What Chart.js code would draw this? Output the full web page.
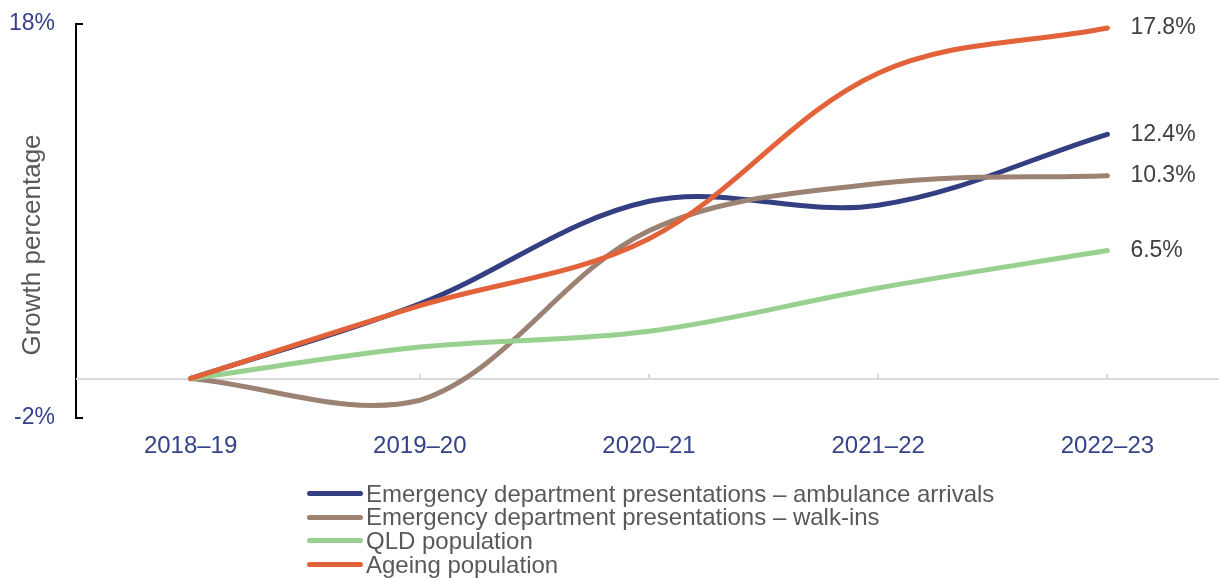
<!DOCTYPE html>
<html>
<head>
<meta charset="utf-8">
<script src="https://cdn.jsdelivr.net/npm/chart.js@4/dist/chart.umd.min.js"></script>
<style>
    html, body { margin: 0; padding: 0; background: #fff; overflow: hidden; }
    #wrap { position: relative; width: 1222px; height: 578px; }
    #legend {
        position: absolute;
        left: 307px;
        top: 482px;
        font-family: 'Liberation Sans', Arial, sans-serif;
        font-size: 24px;
        color: #595959;
    }
    .legend-row { display: flex; align-items: center; height: 23.6px; white-space: nowrap; }
    .legend-line { width: 56px; height: 5px; border-radius: 3px; margin-right: 3px; }
</style>
</head>
<body>
<div id="wrap">
    <canvas id="growthChart" width="1222" height="578"></canvas>
    <div id="legend"></div>
</div>
<script>
// Data (growth %, relative to 2018–19)
const years = ['2018–19', '2019–20', '2020–21', '2021–22', '2022–23'];
const ambulanceArrivals = [0, 3.8, 9.0, 8.8, 12.4];
const walkIns = [0, -1.1, 7.5, 9.9, 10.3];
const qldPopulation = [0, 1.6, 2.4, 4.6, 6.5];
const ageingPopulation = [0, 3.7, 7.1, 15.5, 17.8];
const yTicks = [-2, 18];

const seriesNames = [
    'Emergency department presentations – ambulance arrivals',
    'Emergency department presentations – walk-ins',
    'QLD population',
    'Ageing population'
];
const seriesValues = [ambulanceArrivals, walkIns, qldPopulation, ageingPopulation];
const seriesColors = ['#333f80', '#9b8272', '#98d18f', '#e2633a'];

const FONT = "'Liberation Sans', Arial, sans-serif";
const NAVY = '#35428a';

// Zero line with small upward tick marks at each category
const zeroLinePlugin = {
    id: 'zeroLine',
    beforeDatasetsDraw(chart) {
        const ctx = chart.ctx;
        const area = chart.chartArea;
        const x = chart.scales.x;
        const y0 = Math.round(chart.scales.y.getPixelForValue(0));
        ctx.save();
        ctx.strokeStyle = '#d9d9d9';
        ctx.lineWidth = 2;
        ctx.beginPath();
        ctx.moveTo(area.left, y0);
        ctx.lineTo(area.right, y0);
        for (let i = 0; i < years.length; i++) {
            const px = Math.round(x.getPixelForTick(i));
            ctx.moveTo(px, y0);
            ctx.lineTo(px, y0 - 5);
        }
        ctx.stroke();
        ctx.restore();
    }
};

// Axis end caps, y title and value labels at the end of each line
const decorPlugin = {
    id: 'decor',
    afterDraw(chart) {
        const ctx = chart.ctx;
        const area = chart.chartArea;
        const y = chart.scales.y;
        ctx.save();

        // little inward ticks on the y axis ends
        ctx.strokeStyle = '#000';
        ctx.lineWidth = 2;
        ctx.beginPath();
        yTicks.forEach(v => {
            const py = Math.round(y.getPixelForValue(v));
            ctx.moveTo(area.left, py);
            ctx.lineTo(area.left + 7, py);
        });
        ctx.stroke();

        // y axis title
        ctx.fillStyle = '#595959';
        ctx.font = '26px ' + FONT;
        ctx.textAlign = 'center';
        ctx.textBaseline = 'middle';
        ctx.translate(33, 245);
        ctx.rotate(-Math.PI / 2);
        ctx.fillText('Growth percentage', 0, 0);
        ctx.setTransform(1, 0, 0, 1, 0, 0);

        // end labels
        ctx.fillStyle = '#404040';
        ctx.font = '23px ' + FONT;
        ctx.textAlign = 'left';
        ctx.textBaseline = 'middle';
        chart.data.datasets.forEach((ds, i) => {
            const meta = chart.getDatasetMeta(i);
            const last = meta.data[meta.data.length - 1];
            const val = ds.data[ds.data.length - 1];
            ctx.fillText(val.toFixed(1) + '%', last.x + 23, last.y);
        });
        ctx.restore();
    }
};

function initChart() {
    const ctx = document.getElementById('growthChart');

    new Chart(ctx, {
        type: 'line',
        data: {
            labels: years,
            datasets: seriesValues.map((vals, i) => ({
                label: seriesNames[i],
                data: vals,
                borderColor: seriesColors[i],
                backgroundColor: seriesColors[i],
                borderWidth: 5,
                borderCapStyle: 'round',
                borderJoinStyle: 'round',
                pointRadius: 0,
                tension: 0.35,
                fill: false,
                order: seriesValues.length - i
            }))
        },
        options: {
            responsive: false,
            devicePixelRatio: 1,
            animation: false,
            layout: { padding: { top: 24, left: 0, right: 0, bottom: 0 } },
            plugins: {
                legend: { display: false },
                tooltip: { enabled: false }
            },
            scales: {
                x: {
                    type: 'category',
                    offset: true,
                    grid: { display: false, drawTicks: false },
                    border: { display: false },
                    ticks: {
                        color: NAVY,
                        font: { family: FONT, size: 24 },
                        padding: 14,
                        maxRotation: 0,
                        autoSkip: false
                    },
                    afterFit: scale => {
                        scale.height = 160;
                        scale.paddingLeft = 0;
                        scale.paddingRight = 0;
                    }
                },
                y: {
                    min: -2,
                    max: 18,
                    grid: { display: false, drawTicks: false },
                    border: { display: true, color: '#000', width: 2 },
                    afterBuildTicks: scale => {
                        scale.ticks = yTicks.map(v => ({ value: v }));
                    },
                    ticks: {
                        color: NAVY,
                        font: { family: FONT, size: 23 },
                        padding: 21,
                        callback: v => v + '%'
                    },
                    afterFit: scale => {
                        scale.width = 76;
                        scale.paddingTop = 0;
                        scale.paddingBottom = 0;
                    }
                }
            }
        },
        plugins: [zeroLinePlugin, decorPlugin]
    });
}

function buildLegend() {
    const legend = document.getElementById('legend');
    seriesNames.forEach((name, i) => {
        const row = document.createElement('div');
        row.className = 'legend-row';
        const line = document.createElement('span');
        line.className = 'legend-line';
        line.style.background = seriesColors[i];
        const text = document.createElement('span');
        text.textContent = name;
        row.appendChild(line);
        row.appendChild(text);
        legend.appendChild(row);
    });
}

initChart();
buildLegend();
</script>
</body>
</html>
